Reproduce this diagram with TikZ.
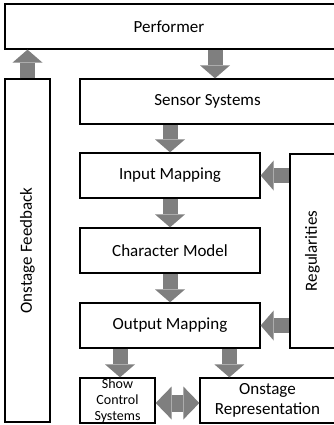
\documentclass[tikz,border=0pt]{standalone}
\usepackage{fontspec}
\setmainfont{Carlito}
\usetikzlibrary{arrows.meta,calc}
\definecolor{arrowgray}{HTML}{7F7F7F}
\tikzset{
  box/.style={draw=black, line width=1.3pt, fill=white, rectangle, inner sep=0pt,
    font=\fontsize{17}{20}\selectfont, align=center},
  blockarrow/.style={draw=arrowgray, line width=15pt,
    -{Triangle[width=30pt,length=13pt,line width=0pt]}},
  dblarrow/.style={draw=arrowgray, line width=17pt,
    {Triangle[width=33pt,length=16pt,line width=0pt]}-{Triangle[width=33pt,length=16pt,line width=0pt]}}
}
\begin{document}
\begin{tikzpicture}[x=1pt,y=-1pt]
\useasboundingbox (0,0) rectangle (334,425);
\clip (0,0) rectangle (334,425);
\node[box, minimum width=330pt, minimum height=45pt] (perf) at (170,26.5) {\hspace*{-2pt}Performer};
\node[box, minimum width=255pt, minimum height=45pt] (sens) at (207.5,101.5) {Sensor Systems};
\node[box, rotate=90, minimum width=343pt, minimum height=45pt] (fb) at (27.5,250.5) {Onstage Feedback};
\node[box, minimum width=180pt, minimum height=45pt] (inp) at (170,175.5) {Input Mapping};
\node[box, minimum width=180pt, minimum height=45pt] (char) at (170,250.5) {Character Model};
\node[box, minimum width=180pt, minimum height=45pt] (outp) at (170,325.5) {Output Mapping};
\node[box, rotate=90, minimum width=194pt, minimum height=45pt] (reg) at (312.5,251) {Regularities};
\node[box, minimum width=75pt, minimum height=45pt, font=\fontsize{14}{16}\selectfont] (show) at (117.5,400.5) {Show\\Control\\Systems};
\node[box, minimum width=135pt, minimum height=45pt] (rep) at (267.5,400.5) {Onstage\\Representation};

\draw[blockarrow] (fb.east) -- (fb.east |- perf.south);
\draw[blockarrow] ([xshift=7.5pt]sens.north |- perf.south) -- ([xshift=7.5pt]sens.north);
\draw[blockarrow] (inp.north |- sens.south) -- (inp.north);
\draw[blockarrow] (inp.south) -- (char.north);
\draw[blockarrow] (char.south) -- (outp.north);
\draw[blockarrow] (reg.north |- inp.east) -- (inp.east);
\draw[blockarrow] (reg.north |- outp.east) -- (outp.east);
\draw[blockarrow] ([xshift=2.5pt]show.north |- outp.south) -- ([xshift=2.5pt]show.north);
\draw[blockarrow] ([xshift=30pt]rep.north west |- outp.south) -- ([xshift=30pt]rep.north west);
\draw[dblarrow] ([yshift=-2.5pt]show.east) -- ([yshift=-2.5pt]show.east -| rep.west);
\end{tikzpicture}
\end{document}
